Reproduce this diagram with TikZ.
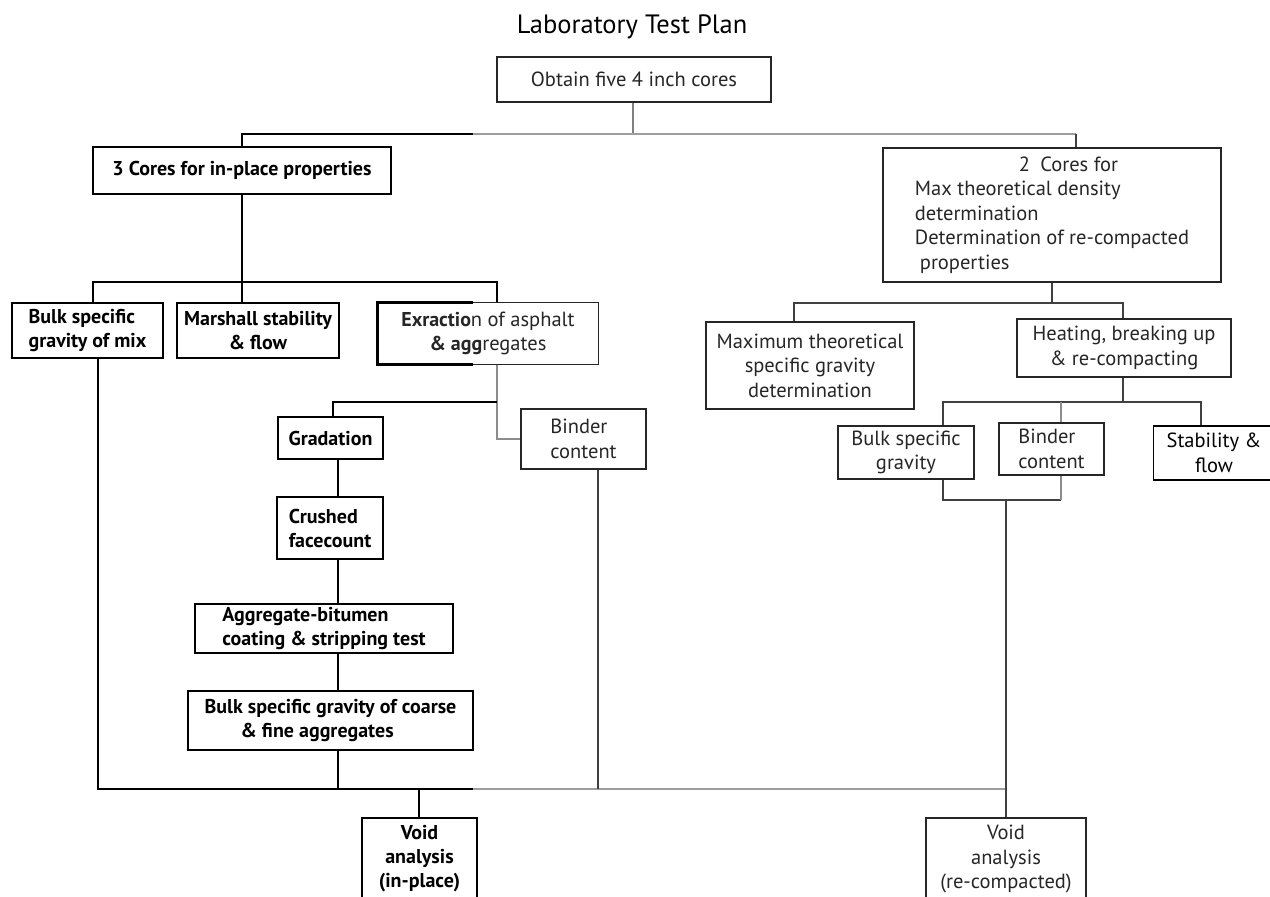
\documentclass[tikz,border=0pt]{standalone}
\usepackage{fontspec}
\setmainfont{PT Sans}
\tikzset{
  bbox/.style={draw, line width=2.4pt, inner sep=0pt, align=center, font=\bfseries\fontsize{20}{24}\selectfont},
  tbox/.style={draw=black!85, line width=1.1pt, inner sep=0pt, align=center, font=\fontsize{20.5}{24.5}\selectfont, text=black!85},
  lbox/.style={tbox, align=left},
  bline/.style={line width=2.1pt},
  tline/.style={line width=1.1pt, draw=black!75},
  gline/.style={line width=2pt, draw=black!38},
}
\begin{document}
\begin{tikzpicture}[x=1pt,y=-1pt]
\useasboundingbox (0,0) rectangle (1270,897);
\clip (0,0) rectangle (1270,897);
\fill[white] (0,0) rectangle (1270,897);

% ---------- nodes ----------
\node[font=\fontsize{26.5}{30}\selectfont] (title) at (632,27) {Laboratory Test Plan};
\node[tbox, minimum width=274pt, minimum height=45pt] (obtain) at (634,79.5) {Obtain five 4 inch cores};

\node[bbox, minimum width=298pt, minimum height=47pt] (cores3) at (242,170.5) {3 Cores for in-place properties};
\node[lbox, minimum width=338pt, minimum height=134pt] (cores2) at (1052,215)
  {\hspace*{104pt}2\enspace Cores for\\Max theoretical density\\determination\\Determination of re-compacted\\\hspace*{5pt}properties};

\node[bbox, align=left, minimum width=151pt, minimum height=55pt] (bulkmix) at (87.5,330.5) {Bulk specific\\gravity of mix};
\node[bbox, minimum width=162pt, minimum height=55pt] (marshall) at (258,330.5) {Marshall stability\\\& flow};
\node[tbox, draw=none, minimum width=220pt, minimum height=61pt] (exr) at (488,333.5)
  {{\bfseries\fontsize{20}{24}\selectfont Exractio}n of asphalt\\{\bfseries\fontsize{20}{24}\selectfont \& agg}regates};

\node[bbox, minimum width=105pt, minimum height=42pt] (grad) at (330.5,438) {Gradation};
\node[lbox, minimum width=125pt, minimum height=60pt] (binder1) at (583.5,439) {Binder\\content};
\node[bbox, align=left, minimum width=106pt, minimum height=62pt] (crush) at (330,528) {Crushed\\facecount};
\node[bbox, align=left, minimum width=258pt, minimum height=49pt] (agg) at (324,628.5) {Aggregate-bitumen\\coating \& stripping test};
\node[bbox, align=left, minimum width=285pt, minimum height=59pt] (bulkc) at (330.5,720.5) {Bulk specific gravity of coarse\\\hspace*{36pt}\& fine aggregates};
\node[bbox, minimum width=115pt, minimum height=82pt] (void1) at (419.5,859) {Void\\analysis\\(in-place)};

\node[tbox, minimum width=208pt, minimum height=87pt] (maxth) at (810,365.5) {Maximum theoretical\\specific gravity\\determination};
\node[tbox, minimum width=214pt, minimum height=58pt] (heat) at (1124,348) {Heating, breaking up\\\& re-compacting};
\node[tbox, minimum width=136pt, minimum height=53pt] (bulk2) at (906,452.5) {Bulk specific\\gravity};
\node[lbox, minimum width=105pt, minimum height=52pt] (binder2) at (1051.5,449) {Binder\\content};
\node[tbox, draw=black, text=black, minimum width=121pt, minimum height=54pt] (stab) at (1214,453) {Stability \&\\flow};
\node[tbox, minimum width=160pt, minimum height=82pt] (void2) at (1006,859) {Void\\analysis\\(re-compacted)};

% ---------- split border of the extraction box ----------
\coordinate (split) at (473,0);
\draw[line width=2.4pt] (exr.north -| split) -- (exr.north west) -- (exr.south west) -- (exr.south -| split);
\draw[draw=black!85, line width=1.1pt] (exr.north -| split) -- (exr.north east) -- (exr.south east) -- (exr.south -| split);

% ---------- top level ----------
\coordinate (jtop) at (633,134);
\coordinate (c2in) at (1076,134);
\draw[tline, draw=black!50] (obtain.south -| jtop) -- (jtop);
\draw[bline] (cores3.north) -- (cores3.north |- jtop) -- (split |- jtop);
\draw[gline] (split |- jtop) -- (c2in);
\draw[tline] (c2in) -- (c2in |- cores2.north);

% ---------- left tree ----------
\coordinate (j282) at (242,282);
\coordinate (h282L) at (93,282);
\coordinate (h282R) at (497,282);
\draw[bline] (cores3.south) -- (j282 |- marshall.north);
\draw[bline] (h282L |- bulkmix.north) -- (h282L) -- (split |- h282L);
\draw[tline, draw=black] (split |- h282L) -- (h282R) -- (h282R |- exr.north);

\coordinate (j402) at (497,402);
\coordinate (j439) at (497,439);
\coordinate (g333) at (333,402);
\draw[tline, draw=black!45] (h282R |- exr.south) -- (j439) -- (binder1.west);
\draw[bline] (g333 |- grad.north) -- (g333) -- (split |- g333);
\draw[tline, draw=black] (split |- g333) -- (j402);

\coordinate (v338) at (338,0);
\coordinate (b789L) at (98,789);
\coordinate (b789R) at (1006,789);
\coordinate (v598) at (598,789);
\coordinate (v419) at (419,789);
\draw[bline] (v338 |- grad.south) -- (v338 |- crush.north);
\draw[bline] (v338 |- crush.south) -- (v338 |- agg.north);
\draw[bline] (v338 |- agg.south) -- (v338 |- bulkc.north);
\draw[bline] (v338 |- bulkc.south) -- (v338 |- b789L);
\draw[bline] (b789L |- bulkmix.south) -- (b789L) -- (split |- b789L);
\draw[gline] (split |- b789L) -- (b789R);
\draw[tline] (v598 |- binder1.south) -- (v598);
\draw[bline] (v419) -- (v419 |- void1.north);

% ---------- right tree ----------
\coordinate (j303) at (1052,303);
\coordinate (j303L) at (794,303);
\coordinate (j303R) at (1123,303);
\draw[tline] (j303 |- cores2.south) -- (j303);
\draw[tline] (j303L |- maxth.north) -- (j303L) -- (j303R) -- (j303R |- heat.north);

\coordinate (j402R) at (1123,402);
\coordinate (k943) at (943,402);
\coordinate (k1061) at (1061,402);
\coordinate (k1201) at (1201,402);
\draw[tline] (j402R |- heat.south) -- (j402R);
\draw[tline] (k943 |- bulk2.north) -- (k943) -- (k1201) -- (k1201 |- stab.north);
\draw[tline, draw=black!45] (k1061) -- (k1061 |- binder2.north);

\coordinate (m943) at (943,500);
\coordinate (m1061) at (1061,500);
\coordinate (m1006) at (1006,500);
\draw[tline] (m943 |- bulk2.south) -- (m943) -- (m1061);
\draw[tline, draw=black!45] (m1061) -- (m1061 |- binder2.south);
\draw[tline] (m1006) -- (m1006 |- void2.north);
\end{tikzpicture}
\end{document}
